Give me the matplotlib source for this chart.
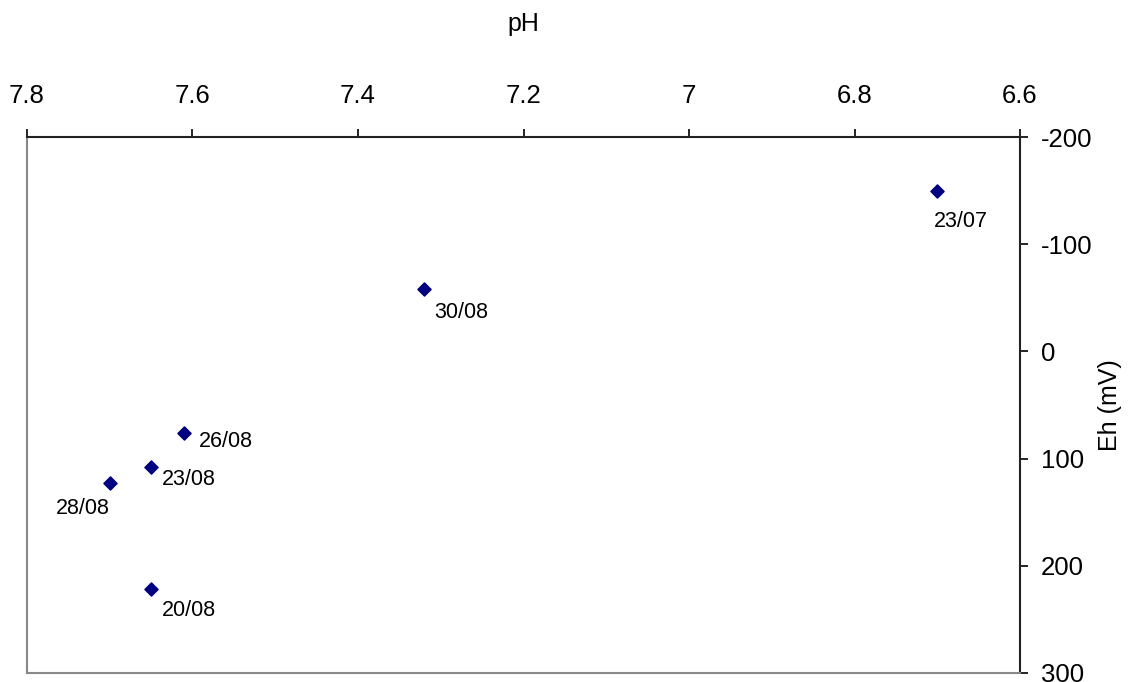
import numpy as np
import matplotlib
matplotlib.use("Agg")
import matplotlib.pyplot as plt

plt.rcParams['font.family'] = ['Liberation Sans', 'DejaVu Sans']
plt.rcParams['axes.unicode_minus'] = False

# readings (pH, Eh in mV) with sampling date
dates = ['23/07', '30/08', '26/08', '23/08', '28/08', '20/08']
ph = [6.70, 7.32, 7.61, 7.65, 7.70, 7.65]
eh = [-150, -58, 76, 108, 123, 222]
# label offsets in pixels (dx, dy, ha)
offsets = [(-3, -31, 'left'), (10, -23, 'left'), (15, -9, 'left'),
           (11, -12, 'left'), (0, -25, 'right'), (11, -21, 'left')]

fig = plt.figure(figsize=(11.28, 6.82), dpi=100)
ax = fig.add_axes([0.0239, 0.0132, 0.9043 - 0.0239, 0.7991 - 0.0132])

ax.scatter(ph, eh, marker='D', s=45, color='#000080', zorder=3)
for d, x, y, (dx, dy, ha) in zip(dates, ph, eh, offsets):
    ax.annotate(d, (x, y), xytext=(dx, dy), textcoords='offset pixels',
                ha=ha, va='center', fontsize=15.5)

ax.set_xlim(7.8, 6.6)
ax.set_ylim(300, -200)
ax.set_xticks([7.8, 7.6, 7.4, 7.2, 7.0, 6.8, 6.6])
ax.set_xticklabels(['7.8', '7.6', '7.4', '7.2', '7', '6.8', '6.6'])
ax.set_yticks([-200, -100, 0, 100, 200, 300])

ax.xaxis.tick_top()
ax.yaxis.tick_right()
ax.tick_params(axis='x', direction='out', length=6, width=1.2, pad=15, labelsize=18.5)
ax.tick_params(axis='y', direction='out', length=6, width=1.2, pad=9, labelsize=18.5)

ax.set_xlabel('pH', fontsize=18, labelpad=38)
ax.xaxis.set_label_position('top')
ax.set_ylabel('Eh (mV)', fontsize=18, labelpad=4)
ax.yaxis.set_label_position('right')

ax.spines['top'].set_color('#222222')
ax.spines['right'].set_color('#222222')
ax.spines['left'].set_color('#888888')
ax.spines['bottom'].set_color('#888888')
for s in ax.spines.values():
    s.set_linewidth(1.5)

fig.savefig('out.png', dpi=100)
